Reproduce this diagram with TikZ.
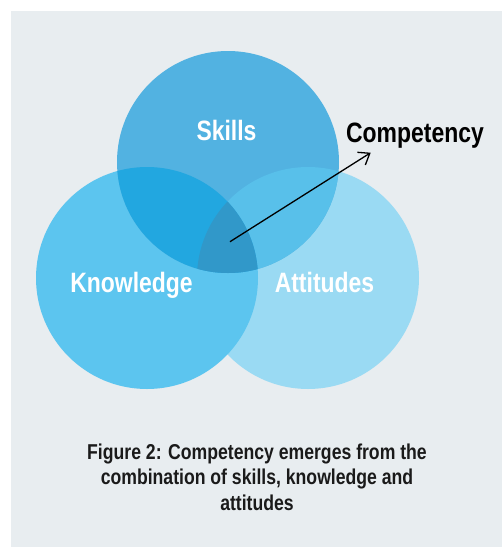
\documentclass[tikz,border=0pt]{standalone}
\usepackage{fontspec}
\setmainfont[FakeStretch=0.82]{Liberation Sans}
\usetikzlibrary{arrows.meta}
\definecolor{panel}{HTML}{E8EDF0}
\definecolor{skillblue}{HTML}{52B2E1}
\definecolor{knowblue}{HTML}{5CC5EF}
\definecolor{attblue}{HTML}{9ADAF3}
\definecolor{skknow}{HTML}{22A7E0}
\definecolor{skatt}{HTML}{58C0EA}
\definecolor{coreblue}{HTML}{3198C9}
\definecolor{captext}{HTML}{1A1A1A}

\begin{document}
\begin{tikzpicture}[x=1pt, y=-1pt,
    setname/.style={text=white, font=\fontsize{28}{32}\selectfont\bfseries, anchor=base, inner sep=0pt},
    caption/.style={text=captext, font=\fontsize{21.5}{25.3}\selectfont\bfseries, align=center, anchor=base, inner sep=0pt}]
  \useasboundingbox (0,0) rectangle (502,547);
  % Background panel
  \fill[white] (0,0) rectangle (502,547);
  \fill[panel] (10.5,11) rectangle (502,547);
  % Circle centres
  \coordinate (S) at (228,162);
  \coordinate (K) at (147,278);
  \coordinate (A) at (308,278);
  % Plain circles
  \fill[attblue] (A) circle[radius=111pt];
  \fill[knowblue] (K) circle[radius=111pt];
  \fill[skillblue] (S) circle[radius=111pt];
  % Overlaps with the skills circle
  \begin{scope}
    \clip (S) circle[radius=111pt];
    \fill[skatt] (A) circle[radius=111pt];
    \fill[skknow] (K) circle[radius=111pt];
    \clip (K) circle[radius=111pt];
    \fill[coreblue] (A) circle[radius=111pt];
  \end{scope}
  % Labels
  \node[setname] (skills) at (226.5,140.5) {Skills};
  \node[setname] (knowledge) at (131.5,292) {Knowledge};
  \node[setname] (attitudes) at (324.5,292) {Attitudes};
  \node[setname, text=black] (competency) at (415,142.7) {Competency};
  % Arrow out of the middle
  \coordinate (core) at (230,241.7);
  \coordinate (tip) at (370.7,152.7);
  \draw[line width=1.3pt, -{Straight Barb[length=10pt,width=15pt]}] (core) -- (tip);
  % Caption, base is the last line
  \node[caption] (figcap) at (257,510)
    {Figure 2: Competency emerges from the\\combination of skills, knowledge and\\attitudes};
\end{tikzpicture}
\end{document}
